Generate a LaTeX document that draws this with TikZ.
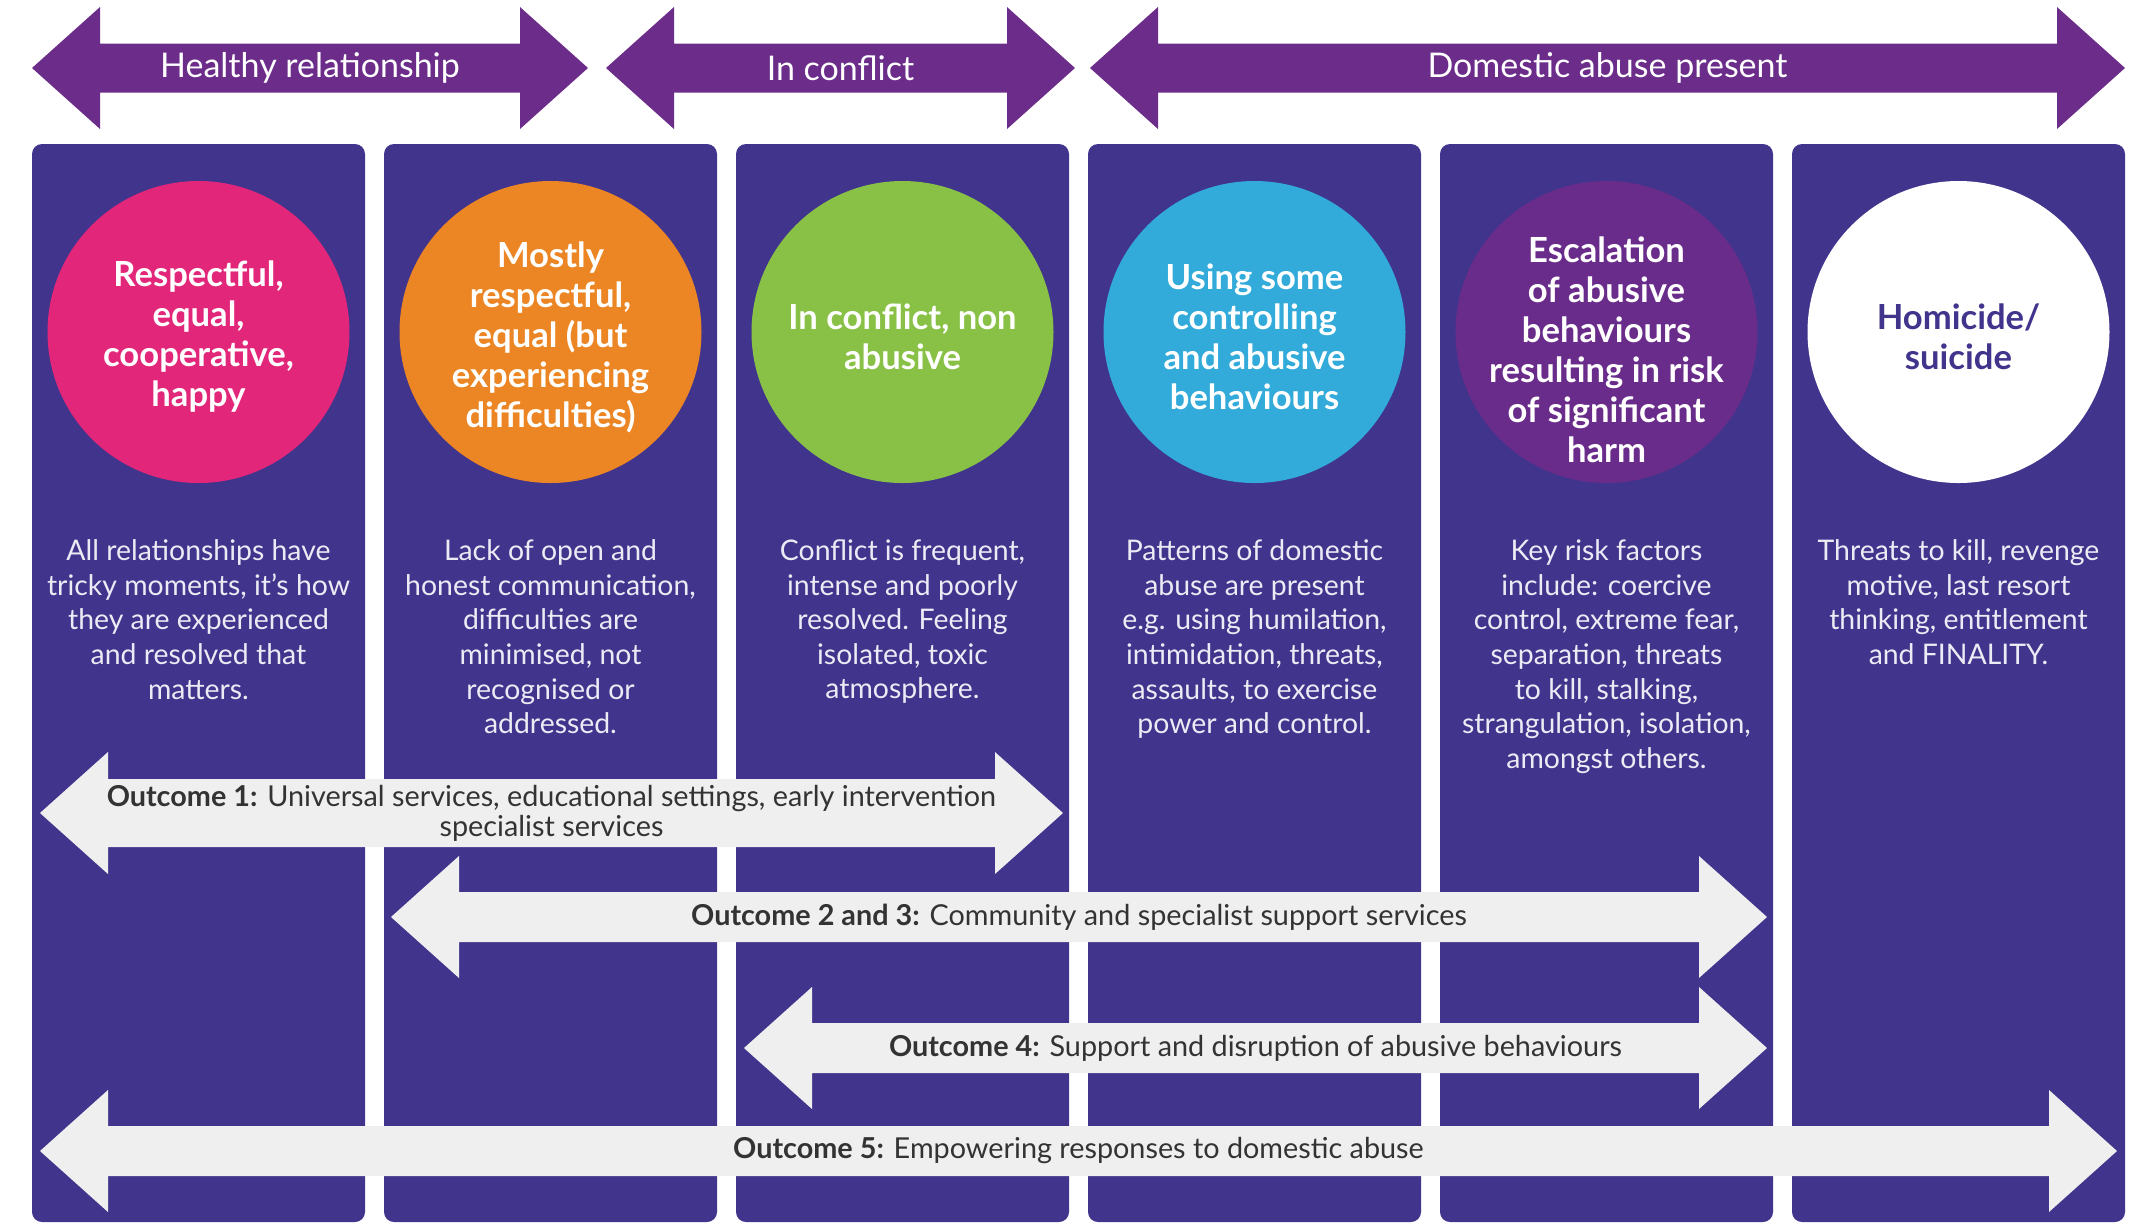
\documentclass[tikz,border=0pt]{standalone}
\usepackage{fontspec}
\setmainfont{Lato}
\usepackage{tikz}
\usetikzlibrary{positioning}
\definecolor{colband}{RGB}{65,52,140}
\definecolor{toppurple}{RGB}{107,44,138}
\definecolor{stagepink}{RGB}{226,38,122}
\definecolor{stageorange}{RGB}{236,133,35}
\definecolor{stagegreen}{RGB}{136,193,70}
\definecolor{stageblue}{RGB}{51,171,218}
\definecolor{stagepurple}{RGB}{106,44,138}
\definecolor{outfill}{RGB}{240,239,240}
\definecolor{outtext}{RGB}{51,51,51}
\definecolor{desctext}{RGB}{236,234,244}
\tikzset{
	colbox/.style={fill=colband,rounded corners=5pt,minimum width=166.5pt,minimum height=539pt,inner sep=0pt},
	stage/.style={circle,minimum size=151pt,inner sep=0pt},
	stagetext/.style={align=center,inner sep=0pt,text=white,font=\bfseries\fontsize{17.3}{20}\selectfont},
	desc/.style={align=center,text=desctext,inner sep=0pt,font=\fontsize{14.2}{17.3}\selectfont},
	toplabel/.style={text=white,inner sep=0pt,font=\fontsize{17}{18}\selectfont},
	outlabel/.style={text=outtext,align=center,inner sep=0pt,font=\fontsize{14.4}{15}\selectfont}
}
% #1 fill, #2 left tip, #3 right tip, #4 middle, #5 half shaft
\newcommand\bandarrow[5][outfill]{
	\fill[#1] (#2,#4) -- (#2+34,#4-30.5) -- (#2+34,#4-#5) -- (#3-34,#4-#5) -- (#3-34,#4-30.5) -- (#3,#4)
		-- (#3-34,#4+30.5) -- (#3-34,#4+#5) -- (#2+34,#4+#5) -- (#2+34,#4+30.5) -- cycle;
}

\begin{document}
\begin{tikzpicture}[x=1pt,y=-1pt]
	\useasboundingbox (0,0) rectangle (1072,611.5);
	% columns
	\node[colbox] (c1) at (99.25,341.5) {};
	\node[colbox] (c2) at (275.25,341.5) {};
	\node[colbox] (c3) at (451.25,341.5) {};
	\node[colbox] (c4) at (627.25,341.5) {};
	\node[colbox] (c5) at (803.25,341.5) {};
	\node[colbox] (c6) at (979.25,341.5) {};
	% headings
	\bandarrow[toppurple]{16}{294}{34}{12.25}
	\bandarrow[toppurple]{303}{537.5}{34}{12.25}
	\bandarrow[toppurple]{545}{1062.5}{34}{12.25}
	\node[toplabel] (healthy) at (155,34) {Healthy relationship};
	\node[toplabel] (conflict) at (420.25,34) {In conflict};
	\node[toplabel] (abuse) at (803.75,34) {Domestic abuse present};
	% stages
	\node[stage,fill=stagepink] (s1) at (99.25,166) {};
	\node[stage,fill=stageorange] (s2) at (275.25,166) {};
	\node[stage,fill=stagegreen] (s3) at (451.25,166) {};
	\node[stage,fill=stageblue] (s4) at (627.25,166) {};
	\node[stage,fill=stagepurple] (s5) at (803.25,166) {};
	\node[stage,fill=white] (s6) at (979.25,166) {};
	\node[stagetext] (t1) at ([yshift=-2.5pt]s1.center) {Respectful,\\equal,\\cooperative,\\happy};
	\node[stagetext] (t2) at ([yshift=-2.5pt]s2.center) {Mostly\\respectful,\\equal (but\\experiencing\\difficulties)};
	\node[stagetext] (t3) at ([yshift=-2.5pt]s3.center) {In conflict, non\\abusive};
	\node[stagetext] (t4) at ([yshift=-2.5pt]s4.center) {Using some\\controlling\\and abusive\\behaviours};
	\node[stagetext] (t5) at ([yshift=-9pt]s5.center) {Escalation\\of abusive\\behaviours\\resulting in risk\\of significant\\harm};
	\node[stagetext,text=colband] (t6) at ([yshift=-2.5pt]s6.center) {Homicide/\\suicide};
	\node[desc,below=28pt of s1] (d1) {All relationships have\\tricky moments, it’s how\\they are experienced\\and resolved that\\matters.};
	\node[desc,below=28pt of s2] (d2) {Lack of open and\\honest communication,\\difficulties are\\minimised, not\\recognised or\\addressed.};
	\node[desc,below=28pt of s3] (d3) {Conflict is frequent,\\intense and poorly\\resolved. Feeling\\isolated, toxic\\atmosphere.};
	\node[desc,below=28pt of s4] (d4) {Patterns of domestic\\abuse are present\\e.g. using humilation,\\intimidation, threats,\\assaults, to exercise\\power and control.};
	\node[desc,below=28pt of s5] (d5) {Key risk factors\\include: coercive\\control, extreme fear,\\separation, threats\\to kill, stalking,\\strangulation, isolation,\\amongst others.};
	\node[desc,below=28pt of s6] (d6) {Threats to kill, revenge\\motive, last resort\\thinking, entitlement\\and FINALITY.};
	% outcomes
	\bandarrow{20}{531.5}{406.5}{17}
	\bandarrow{195.5}{883.5}{458.5}{12.5}
	\bandarrow{372}{883.5}{524}{12.5}
	\bandarrow{20}{1058.5}{575.5}{12.5}
	\node[outlabel] (o1) at (275.75,406.5) {\textbf{Outcome 1:} Universal services, educational settings, early intervention\\specialist services};
	\node[outlabel] (o2) at (539.5,458.5) {\textbf{Outcome 2 and 3:} Community and specialist support services};
	\node[outlabel] (o4) at (627.75,524) {\textbf{Outcome 4:} Support and disruption of abusive behaviours};
	\node[outlabel] (o5) at (539.25,575.5) {\textbf{Outcome 5:} Empowering responses to domestic abuse};
\end{tikzpicture}
\end{document}
